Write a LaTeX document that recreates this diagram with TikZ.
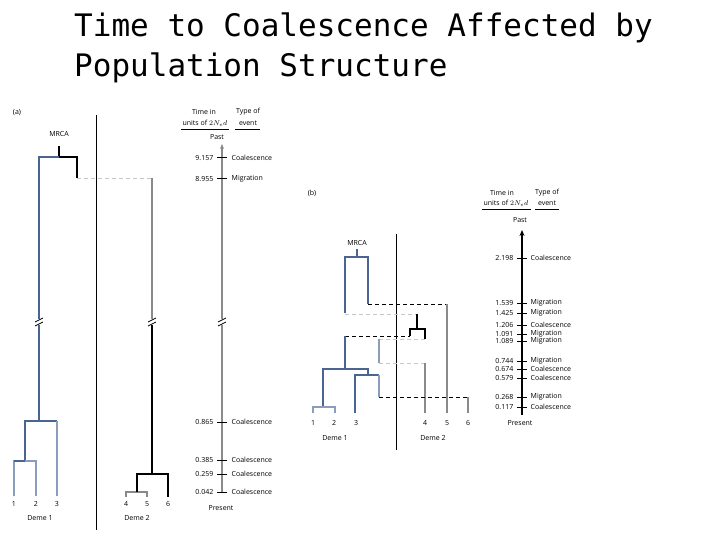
\documentclass[tikz,border=0pt]{standalone}
\usepackage{fontspec}
\setmainfont{Open Sans}
\newfontfamily\titlefont{DejaVu Sans Mono}
\usetikzlibrary{arrows.meta}
\definecolor{tblue}{HTML}{4A6591}
\definecolor{lblue}{HTML}{8C9DBB}
\definecolor{tgrey}{HTML}{8A8A8A}
\definecolor{lgrey}{HTML}{C8C8C8}
\tikzset{
  lab/.style={font=\fontsize{7}{8}\selectfont, inner sep=0.5pt},
  numr/.style={lab, anchor=east},
  evl/.style={lab, anchor=west},
  bl/.style={tblue, line width=1.1pt},
  lb/.style={lblue, line width=1.1pt},
  bk/.style={black, line width=1.1pt},
  gr/.style={tgrey, line width=1.1pt},
  dg/.style={lgrey, line width=0.8pt, dash pattern=on 4pt off 3pt},
  db/.style={black, line width=0.8pt, dash pattern=on 4pt off 3pt},
  tick/.style={line width=1pt},
}
\newcommand{\brk}[2]{%
  \fill[white] (#1-4,#2-3) rectangle (#1+4,#2+3);
  \draw[black, line width=0.8pt] (#1-4,#2) -- (#1+4,#2-4) (#1-4,#2+4) -- (#1+4,#2);}
\begin{document}
\begin{tikzpicture}[x=1pt,y=-1pt]
\useasboundingbox (0,0) rectangle (720,540);
% title
\node[anchor=west, font=\titlefont\fontsize{31}{36}\selectfont, inner sep=0] (t1) at (74,28) {Time to Coalescence Affected by};
\node[anchor=west, font=\titlefont\fontsize{31}{36}\selectfont, inner sep=0] (t2) at (74,68) {Population Structure};

% ================= panel (a)
\node[lab] (pa) at (17,113) {(a)};
\draw[black, line width=0.9pt] (96,115) -- (96,530);
\node[lab] (mrcaA) at (59,134) {MRCA};
\draw[bk] (59,146) -- (59,157);
\draw[bl] (39,420) -- (39,157) -- (59,157);
\draw[bk] (59,157) -- (77,157) -- (77,178);
\draw[dg] (77,178) -- (152,178);
\draw[gr] (152,178) -- (152,322);
\draw[bk] (152,322) -- (152,474);
% deme 1 tree
\draw[bl] (25,461) -- (25,421) -- (57,421);
\draw[lb] (57,421) -- (57,496);
\draw[lb] (14,496) -- (14,461) -- (36,461) -- (36,496);
\draw[bl] (14,461) -- (25,461);
% deme 2 tree
\draw[bk] (137,492) -- (137,474) -- (168,474) -- (168,497);
\draw[gr] (126,497) -- (126,492) -- (147,492) -- (147,497);
\draw[bk] (137,492) -- (137,474);
% axis a
\draw[gr, -{Stealth[length=5pt,width=4pt]}] (222,492) -- (222,144);
\brk{39}{322}\brk{152}{322}\brk{222}{322}
\foreach \y/\n/\e in {158/9.157/Coalescence,179/8.955/Migration,422/0.865/Coalescence,460/0.385/Coalescence,474/0.259/Coalescence,492/0.042/Coalescence}{
  \draw[tick] (217,\y) -- (227,\y);
  \node[numr] at (214,\y) {\n};
  \node[evl] at (231,\y) {\e};
}
\node[lab] (hta) at (204,112) {Time in};
\node[lab] (hua) at (205,123) {units of $2N_e d$};
\draw[line width=0.9pt] (181,129) -- (229,129);
\node[lab] (hya) at (248,112) {Type of};
\node[lab] (hea) at (248,123) {event};
\draw[line width=0.9pt] (235,129) -- (260,129);
\node[lab] (pasta) at (217,137) {Past};
\node[lab] (presa) at (221,508) {Present};
\foreach \x/\n in {14/1,36/2,57/3,126/4,147/5,168/6}{\node[lab] at (\x,504) {\n};}
\node[lab] (d1a) at (40,518) {Deme 1};
\node[lab] (d2a) at (137,518) {Deme 2};

% ================= panel (b)
\node[lab] (pb) at (312,193) {(b)};
\draw[black, line width=0.9pt] (396,234) -- (396,450);
\node[lab] (mrcaB) at (357,243) {MRCA};
\draw[bl] (357,249) -- (357,257);
\draw[bl] (345,313) -- (345,257) -- (368,257) -- (368,304);
\draw[db] (368,304) -- (447,304);
\draw[gr] (447,304) -- (447,413);
\draw[dg] (345,314) -- (417,314);
\draw[bk] (417,314) -- (417,329);
\draw[bk] (410,336) -- (410,329) -- (425,329) -- (425,339);
\draw[db] (345,336) -- (410,336);
\draw[dg] (379,339) -- (425,339);
\draw[lb] (379,339) -- (379,363);
\draw[dg] (379,363) -- (425,363);
\draw[gr] (425,363) -- (425,413);
\draw[bl] (345,336) -- (345,369);
\draw[bl] (323,407) -- (323,369) -- (368,369) -- (368,375);
\draw[lb] (313,413) -- (313,407) -- (335,407) -- (335,413);
\draw[bl] (355,413) -- (355,375) -- (379,375);
\draw[lb] (379,375) -- (379,397);
\draw[db] (379,397) -- (468,397);
\draw[gr] (468,397) -- (468,413);
% axis b
\draw[black, line width=1.2pt, -{Stealth[length=6pt,width=5pt]}] (522,415) -- (522,230);
\foreach \y/\n/\e in {258/2.198/Coalescence,303/1.539/Migration,313/1.425/Migration,325/1.206/Coalescence,334/1.091/Migration,341/1.089/Migration,361/0.744/Migration,369/0.674/Coalescence,378/0.579/Coalescence,397/0.268/Migration,407/0.117/Coalescence}{
  \draw[tick] (517,\y) -- (527,\y);
  \node[numr] at (514,\y) {\n};
  \node[evl] at (530,\y) {\e};
}
\node[lab] (htb) at (502,193) {Time in};
\node[lab] (hub) at (506,203) {units of $2N_e d$};
\draw[line width=0.9pt] (482,209) -- (531,209);
\node[lab] (hyb) at (547,193) {Type of};
\node[lab] (heb) at (547,203) {event};
\draw[line width=0.9pt] (535,209) -- (559,209);
\node[lab] (pastb) at (520,220) {Past};
\node[lab] (presb) at (520,423) {Present};
\foreach \x/\n in {313/1,334/2,356/3,425/4,447/5,468/6}{\node[lab] at (\x,423) {\n};}
\node[lab] (d1b) at (335,438) {Deme 1};
\node[lab] (d2b) at (433,438) {Deme 2};
\end{tikzpicture}
\end{document}
